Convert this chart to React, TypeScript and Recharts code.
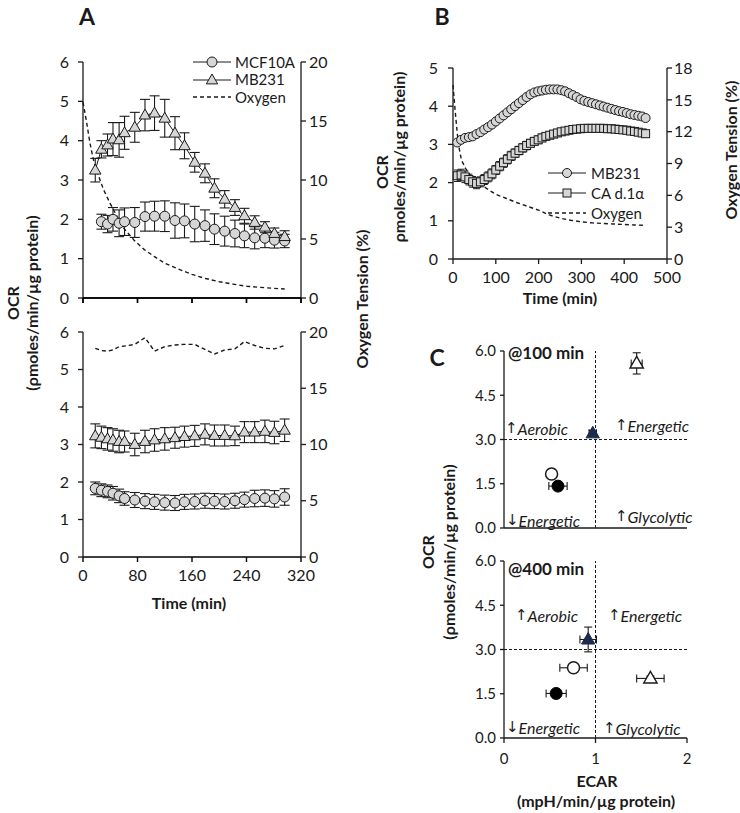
import React from 'react';
import {
  ComposedChart,
  Line,
  XAxis,
  YAxis,
  ErrorBar,
  ScatterChart,
  Scatter,
  ReferenceLine,
} from 'recharts';

const FONT = 'Lato, "Open Sans", "DejaVu Sans", sans-serif';
const INK = '#1a1a1a';
const MARKER_FILL = '#d6d6d6';
const NAVY = '#1d2b4c';

// ---- Panel A, top: hypoxia ----
const aTimeMB231 = [18, 27, 36, 44, 53, 61, 76, 91, 105, 120, 135, 149, 164, 179, 193, 208, 223, 237, 252, 267, 281, 296];
const aTimeMCF10A = [27, 36, 44, 53, 61, 76, 91, 105, 120, 135, 149, 164, 179, 193, 208, 223, 237, 252, 267, 281, 296];
const hypoMB231 = [3.25, 3.78, 3.89, 4.04, 4.02, 4.2, 4.34, 4.65, 4.7, 4.57, 4.19, 3.87, 3.45, 3.17, 2.79, 2.51, 2.3, 2.09, 1.92, 1.8, 1.64, 1.56];
const hypoMB231Err = [0.3, 0.22, 0.28, 0.42, 0.44, 0.42, 0.38, 0.4, 0.44, 0.48, 0.42, 0.33, 0.25, 0.24, 0.24, 0.22, 0.2, 0.19, 0.17, 0.14, 0.14, 0.15];
const hypoMCF10A = [1.94, 1.88, 2.0, 1.9, 1.94, 1.92, 2.07, 2.08, 2.08, 1.97, 1.96, 1.88, 1.84, 1.75, 1.7, 1.64, 1.58, 1.53, 1.52, 1.47, 1.45];
const hypoMCF10AErr = [0.19, 0.22, 0.3, 0.34, 0.35, 0.38, 0.37, 0.38, 0.39, 0.45, 0.43, 0.45, 0.4, 0.39, 0.38, 0.34, 0.3, 0.28, 0.24, 0.2, 0.17];
const hypoO2Time = [0, 5, 10, 15, 20, 25, 30, 40, 50, 60, 75, 90, 105, 120, 140, 160, 180, 200, 220, 240, 260, 280, 296];
const hypoO2 = [16.6, 15.0, 13.2, 11.8, 10.8, 10.0, 9.2, 8.0, 6.9, 5.9, 4.9, 4.1, 3.5, 2.95, 2.45, 2.0, 1.65, 1.38, 1.18, 1.0, 0.9, 0.82, 0.76];

// ---- Panel A, bottom: normoxia ----
const aTimeNorm = [18, 27, 36, 44, 53, 61, 76, 91, 105, 120, 135, 149, 164, 179, 193, 208, 223, 237, 252, 267, 281, 296];
const normMB231 = [3.23, 3.19, 3.15, 3.12, 3.08, 3.08, 3.0, 3.08, 3.12, 3.15, 3.18, 3.21, 3.23, 3.27, 3.24, 3.24, 3.23, 3.33, 3.33, 3.35, 3.32, 3.38];
const normMB231Err = [0.32, 0.3, 0.3, 0.3, 0.3, 0.28, 0.3, 0.3, 0.3, 0.3, 0.28, 0.28, 0.28, 0.28, 0.28, 0.28, 0.26, 0.28, 0.28, 0.3, 0.3, 0.3];
const normMCF10A = [1.83, 1.78, 1.75, 1.7, 1.63, 1.56, 1.52, 1.49, 1.47, 1.45, 1.44, 1.47, 1.48, 1.5, 1.49, 1.48, 1.5, 1.53, 1.56, 1.57, 1.55, 1.6];
const normMCF10AErr = [0.17, 0.17, 0.17, 0.18, 0.18, 0.18, 0.2, 0.2, 0.2, 0.2, 0.2, 0.2, 0.2, 0.2, 0.2, 0.2, 0.2, 0.2, 0.22, 0.22, 0.22, 0.22];
const normO2 = [18.55, 18.35, 18.3, 18.4, 18.7, 18.75, 18.9, 19.5, 18.3, 18.7, 18.85, 18.9, 18.9, 18.45, 18.05, 18.4, 18.5, 19.15, 18.8, 18.55, 18.5, 18.8];

const aTicks = [0, 80, 160, 240, 320];

// ---- Panel B ----
const bTime = [10, 19, 28, 37, 46, 55, 64, 73, 82, 91, 100, 109, 118, 127, 136, 145, 154, 163, 172, 181, 190, 199, 208, 217, 226, 235, 244, 253, 262, 271, 280, 289, 298, 307, 316, 325, 334, 343, 352, 361, 370, 379, 388, 397, 406, 415, 424, 433, 442, 450];
const bMB231 = [3.05, 3.12, 3.17, 3.19, 3.21, 3.27, 3.32, 3.39, 3.45, 3.52, 3.6, 3.68, 3.76, 3.84, 3.92, 4.0, 4.08, 4.16, 4.24, 4.31, 4.36, 4.39, 4.41, 4.43, 4.44, 4.44, 4.44, 4.42, 4.39, 4.34, 4.29, 4.24, 4.18, 4.14, 4.11, 4.08, 4.05, 4.02, 3.99, 3.96, 3.93, 3.9, 3.87, 3.85, 3.82, 3.79, 3.77, 3.75, 3.73, 3.69];
const bMB231Err = [0.05, 0.05, 0.05, 0.05, 0.05, 0.05, 0.05, 0.05, 0.05, 0.05, 0.05, 0.05, 0.05, 0.05, 0.05, 0.05, 0.05, 0.05, 0.05, 0.05, 0.04, 0.04, 0.04, 0.04, 0.04, 0.04, 0.04, 0.04, 0.04, 0.04, 0.04, 0.04, 0.04, 0.04, 0.04, 0.04, 0.04, 0.04, 0.04, 0.04, 0.04, 0.04, 0.04, 0.04, 0.04, 0.04, 0.04, 0.04, 0.04, 0.04];
const bCA = [2.18, 2.2, 2.15, 2.08, 2.02, 1.98, 2.02, 2.08, 2.15, 2.23, 2.33, 2.43, 2.52, 2.61, 2.7, 2.77, 2.84, 2.91, 2.97, 3.03, 3.08, 3.12, 3.17, 3.21, 3.24, 3.27, 3.3, 3.33, 3.35, 3.37, 3.39, 3.4, 3.41, 3.42, 3.42, 3.42, 3.42, 3.42, 3.42, 3.41, 3.41, 3.4, 3.39, 3.38, 3.37, 3.35, 3.34, 3.32, 3.3, 3.28];
const bCAErr = [0.15, 0.15, 0.15, 0.14, 0.14, 0.14, 0.13, 0.13, 0.13, 0.13, 0.12, 0.12, 0.12, 0.12, 0.12, 0.11, 0.11, 0.11, 0.11, 0.1, 0.1, 0.1, 0.1, 0.09, 0.09, 0.09, 0.09, 0.08, 0.08, 0.08, 0.07, 0.07, 0.07, 0.07, 0.06, 0.06, 0.06, 0.06, 0.06, 0.06, 0.05, 0.05, 0.05, 0.05, 0.05, 0.05, 0.05, 0.05, 0.05, 0.05];
const bO2Time = [0, 5, 10, 15, 20, 30, 40, 60, 80, 100, 125, 150, 175, 200, 225, 250, 275, 300, 325, 350, 375, 400, 425, 450];
const bO2 = [16.4, 14.0, 11.8, 10.3, 9.3, 8.5, 7.9, 7.2, 6.6, 6.1, 5.7, 5.3, 4.95, 4.6, 4.15, 3.85, 3.65, 3.5, 3.4, 3.35, 3.3, 3.25, 3.2, 3.17];

// ---- Panel C (order: open circle, filled circle, open triangle, filled triangle) ----
const cMarkers = ['openCircle', 'filledCircle', 'openTriangle', 'filledTriangle'];
const ecar100 = [0.52, 0.59, 1.45, 0.97];
const ecar100Err = [0.04, 0.1, 0.06, 0.04];
const ocr100 = [1.83, 1.42, 5.58, 3.21];
const ocr100Err = [0.16, 0.08, 0.36, 0.1];
const ecar400 = [0.76, 0.57, 1.6, 0.92];
const ecar400Err = [0.15, 0.11, 0.15, 0.09];
const ocr400 = [2.38, 1.51, 2.02, 3.34];
const ocr400Err = [0.1, 0.1, 0.08, 0.42];

// panel A plot box (both halves share the same horizontal layout)
const A_LEFT = 83;
const A_RIGHT = 301;
const A_TOP_AXIS_Y = 298;

const series = (t: number[], v: number[], e?: number[]) =>
  t.map((x, i) => ({ t: x, v: v[i], err: e ? e[i] : 0 }));

const tickStyle = { fill: INK, fontSize: 16, fontFamily: FONT };
const noLabel = () => '';

const tri = (cx: number, cy: number, s: number) =>
  `M${cx},${cy - s} L${cx + s * 0.95},${cy + s * 0.65} L${cx - s * 0.95},${cy + s * 0.65} Z`;

const circleDot = (r: number) => (p: any) =>
  p.cx == null ? <g key={`n${p.index}`} /> : (
    <circle key={`c${p.index}`} cx={p.cx} cy={p.cy} r={r} fill={MARKER_FILL} stroke={INK} strokeWidth={1} />
  );
const triDot = (s: number) => (p: any) =>
  p.cx == null ? <g key={`n${p.index}`} /> : (
    <path key={`t${p.index}`} d={tri(p.cx, p.cy, s)} fill={MARKER_FILL} stroke={INK} strokeWidth={1} />
  );
const squareDot = (s: number) => (p: any) =>
  p.cx == null ? <g key={`n${p.index}`} /> : (
    <rect key={`s${p.index}`} x={p.cx - s} y={p.cy - s} width={s * 2} height={s * 2} fill={MARKER_FILL} stroke={INK} strokeWidth={1} />
  );

type AProps = {
  top: number;
  height: number;
  mb231: any[];
  mcf10a: any[];
  o2: any[];
  xLabels: boolean;
  mBottom: number;
};

const PanelA = ({ top, height, mb231, mcf10a, o2, xLabels, mBottom }: AProps) => (
  <div style={{ position: 'absolute', left: 0, top }}>
    <ComposedChart width={370} height={height} margin={{ top: 22, right: 19, bottom: mBottom, left: 23 }}>
      <XAxis
        type="number"
        dataKey="t"
        domain={[0, 320]}
        ticks={aTicks}
        interval={0}
        stroke="#000"
        strokeWidth={1.4}
        tickSize={5}
        tickMargin={8}
        tick={tickStyle}
        tickFormatter={xLabels ? undefined : noLabel}
        height={30}
      />
      <YAxis yAxisId="ocr" domain={[0, 6]} ticks={[0, 1, 2, 3, 4, 5, 6]} interval={0} width={60} stroke={INK} strokeWidth={1.3} tickSize={5} tickMargin={9} tick={tickStyle} />
      <YAxis yAxisId="o2" orientation="right" domain={[0, 20]} ticks={[0, 5, 10, 15, 20]} interval={0} width={50} stroke={INK} strokeWidth={1.3} tickSize={5} tickMargin={3} tick={tickStyle} />
      <Line yAxisId="o2" data={o2} dataKey="v" stroke={INK} strokeWidth={1.4} strokeDasharray="4 3" dot={false} isAnimationActive={false} />
      <Line yAxisId="ocr" data={mcf10a} dataKey="v" stroke={INK} strokeWidth={1} dot={circleDot(5)} isAnimationActive={false}>
        <ErrorBar dataKey="err" width={5} stroke={INK} strokeWidth={1.1} direction="y" />
      </Line>
      <Line yAxisId="ocr" data={mb231} dataKey="v" stroke={INK} strokeWidth={1} dot={triDot(6)} isAnimationActive={false}>
        <ErrorBar dataKey="err" width={5} stroke={INK} strokeWidth={1.1} direction="y" />
      </Line>
    </ComposedChart>
  </div>
);

const PanelB = () => (
  <div style={{ position: 'absolute', left: 370, top: 40 }}>
    <ComposedChart width={370} height={250} margin={{ top: 28, right: 33, bottom: 3, left: 38 }}>
      <XAxis type="number" dataKey="t" domain={[0, 500]} ticks={[0, 100, 200, 300, 400, 500]} interval={0} stroke={INK} strokeWidth={1.3} tickSize={5} tickMargin={8} tick={tickStyle} height={28} />
      <YAxis yAxisId="ocr" domain={[0, 5]} ticks={[0, 1, 2, 3, 4, 5]} interval={0} width={45} stroke={INK} strokeWidth={1.3} tickSize={5} tickMargin={10} tick={tickStyle} />
      <YAxis yAxisId="o2" orientation="right" domain={[0, 18]} ticks={[0, 3, 6, 9, 12, 15, 18]} interval={0} width={40} stroke={INK} strokeWidth={1.3} tickSize={5} tickMargin={2} tick={tickStyle} />
      <Line yAxisId="o2" data={series(bO2Time, bO2)} dataKey="v" stroke={INK} strokeWidth={1.4} strokeDasharray="4 3" dot={false} isAnimationActive={false} />
      <Line yAxisId="ocr" data={series(bTime, bCA, bCAErr)} dataKey="v" stroke={INK} strokeWidth={1} dot={squareDot(4)} isAnimationActive={false}>
        <ErrorBar dataKey="err" width={3.5} stroke={INK} strokeWidth={1} direction="y" />
      </Line>
      <Line yAxisId="ocr" data={series(bTime, bMB231, bMB231Err)} dataKey="v" stroke={INK} strokeWidth={1} dot={circleDot(4.5)} isAnimationActive={false}>
        <ErrorBar dataKey="err" width={3} stroke={INK} strokeWidth={1} direction="y" />
      </Line>
    </ComposedChart>
  </div>
);

const cShape = (kind: string) => (p: any) => {
  const { cx, cy } = p;
  if (kind === 'openCircle') return <circle cx={cx} cy={cy} r={6} fill="#fff" stroke={INK} strokeWidth={1.5} />;
  if (kind === 'filledCircle') return <circle cx={cx} cy={cy} r={6} fill="#000" stroke="#000" strokeWidth={1} />;
  if (kind === 'openTriangle') return <path d={tri(cx, cy, 7)} fill="#fff" stroke={INK} strokeWidth={1.4} />;
  return <path d={tri(cx, cy, 7)} fill={NAVY} stroke={NAVY} strokeWidth={1} />;
};

type CProps = { top: number; height: number; ecar: number[]; ecarErr: number[]; ocr: number[]; ocrErr: number[]; xLabels: boolean; mBottom: number };

const PanelC = ({ top, height, ecar, ecarErr, ocr, ocrErr, xLabels, mBottom }: CProps) => (
  <div style={{ position: 'absolute', left: 440, top }}>
    <ScatterChart width={300} height={height} margin={{ top: 11, right: 53, bottom: mBottom, left: 24 }}>
      <XAxis
        type="number"
        dataKey="x"
        domain={[0, 2]}
        ticks={[0, 1, 2]}
        interval={0}
        stroke={INK}
        strokeWidth={1.3}
        tickSize={xLabels ? 5 : 0}
        tickLine={xLabels}
        tickMargin={10}
        tick={{ ...tickStyle, fontSize: 15 }}
        tickFormatter={xLabels ? undefined : noLabel}
        height={xLabels ? 30 : 2}
      />
      <YAxis type="number" dataKey="y" domain={[0, 6]} ticks={[0, 1.5, 3, 4.5, 6]} interval={0} tickFormatter={(v: number) => v.toFixed(1)} width={40} stroke={INK} strokeWidth={1.3} tickSize={4} tickMargin={4} tick={{ ...tickStyle, fontSize: 15 }} />
      <ReferenceLine x={1} stroke={INK} strokeWidth={1} strokeDasharray="3 2" />
      <ReferenceLine y={3} stroke={INK} strokeWidth={1} strokeDasharray="3 2" />
      {cMarkers.map((kind, i) => (
        <Scatter
          key={kind}
          data={[{ x: ecar[i], y: ocr[i], ex: ecarErr[i], ey: ocrErr[i] }]}
          shape={cShape(kind)}
          isAnimationActive={false}
        >
          <ErrorBar dataKey="ey" direction="y" width={4} stroke={INK} strokeWidth={1.1} />
          <ErrorBar dataKey="ex" direction="x" width={4} stroke={INK} strokeWidth={1.1} />
        </Scatter>
      ))}
    </ScatterChart>
  </div>
);

const T = (props: any) => <text fontFamily={FONT} fill={INK} dominantBaseline="central" {...props} />;

const Quadrant = ({ x, y, arrow, word }: { x: number; y: number; arrow: string; word: string }) => (
  <T x={x} y={y} fontSize={16}>
    <tspan fontFamily='"DejaVu Sans", "Liberation Sans", sans-serif' fontSize={15}>{arrow}</tspan>
    <tspan fontStyle="italic">{word}</tspan>
  </T>
);

// fallback x-axis for the upper A panel (same scale as the chart's own axis)
const aScale = (t: number) => A_LEFT + (t / 320) * (A_RIGHT - A_LEFT);

const Overlay = () => (
  <svg width={740} height={813} style={{ position: 'absolute', left: 0, top: 0, pointerEvents: 'none' }}>
    <line x1={A_LEFT} x2={A_RIGHT} y1={A_TOP_AXIS_Y} y2={A_TOP_AXIS_Y} stroke="#000" strokeWidth={1.4} />
    {aTicks.map((t) => (
      <line key={t} x1={aScale(t)} x2={aScale(t)} y1={A_TOP_AXIS_Y} y2={A_TOP_AXIS_Y + 5} stroke="#000" strokeWidth={1.4} />
    ))}

    <T x={87} y={16} fontSize={23} fontWeight="bold" textAnchor="middle">A</T>
    <T x={442} y={16} fontSize={23} fontWeight="bold" textAnchor="middle">B</T>
    <T x={437} y={357} fontSize={23} fontWeight="bold" textAnchor="middle">C</T>

    {/* panel A titles */}
    <T x={12} y={303} fontSize={16} fontWeight="bold" textAnchor="middle" transform="rotate(-90 12 303)">OCR</T>
    <T x={31} y={303} fontSize={16} fontWeight="bold" textAnchor="middle" transform="rotate(-90 31 303)">(ρmoles/min/µg protein)</T>
    <T x={361} y={299} fontSize={16} fontWeight="bold" textAnchor="middle" transform="rotate(-90 361 299)">Oxygen Tension (%)</T>
    <T x={189} y={602} fontSize={16} fontWeight="bold" textAnchor="middle">Time (min)</T>

    {/* panel A legend */}
    <line x1={193} x2={231} y1={62} y2={62} stroke={INK} strokeWidth={1} />
    <circle cx={212} cy={62} r={5} fill={MARKER_FILL} stroke={INK} />
    <T x={235} y={62} fontSize={15}>MCF10A</T>
    <line x1={193} x2={231} y1={80} y2={80} stroke={INK} strokeWidth={1} />
    <path d={tri(212, 80, 6)} fill={MARKER_FILL} stroke={INK} />
    <T x={235} y={79} fontSize={15}>MB231</T>
    <line x1={193} x2={231} y1={97} y2={97} stroke={INK} strokeWidth={1.4} strokeDasharray="4 3" />
    <T x={235} y={97} fontSize={15}>Oxygen</T>

    {/* panel B titles */}
    <T x={381} y={172} fontSize={16} fontWeight="bold" textAnchor="middle" transform="rotate(-90 381 172)">OCR</T>
    <T x={398} y={157} fontSize={16} fontWeight="bold" textAnchor="middle" transform="rotate(-90 398 157)">ρmoles/min/µg protein)</T>
    <T x={730} y={150} fontSize={16} fontWeight="bold" textAnchor="middle" transform="rotate(-90 730 150)">Oxygen Tension  (%)</T>
    <T x={560} y={297} fontSize={16} fontWeight="bold" textAnchor="middle">Time (min)</T>

    {/* panel B legend */}
    <line x1={548} x2={586} y1={173} y2={173} stroke={INK} strokeWidth={1} />
    <circle cx={567} cy={173} r={4.5} fill={MARKER_FILL} stroke={INK} />
    <T x={591} y={173} fontSize={15}>MB231</T>
    <line x1={548} x2={586} y1={193} y2={193} stroke={INK} strokeWidth={1} />
    <rect x={563} y={189} width={8} height={8} fill={MARKER_FILL} stroke={INK} />
    <T x={591} y={193} fontSize={15}>CA d.1α</T>
    <line x1={548} x2={586} y1={213} y2={213} stroke={INK} strokeWidth={1.4} strokeDasharray="4 3" />
    <T x={591} y={213} fontSize={15}>Oxygen</T>

    {/* panel C titles */}
    <T x={427} y={552} fontSize={16} fontWeight="bold" textAnchor="middle" transform="rotate(-90 427 552)">OCR</T>
    <T x={448} y={552} fontSize={16} fontWeight="bold" textAnchor="middle" transform="rotate(-90 448 552)">(ρmoles/min/µg protein)</T>
    <T x={597} y={780} fontSize={16} fontWeight="bold" textAnchor="middle">ECAR</T>
    <T x={596} y={800} fontSize={16} fontWeight="bold" textAnchor="middle">(mpH/min/µg protein)</T>

    <T x={508} y={352} fontSize={17} fontWeight="bold">@100 min</T>
    <Quadrant x={505} y={428} arrow="↑" word="Aerobic" />
    <Quadrant x={615} y={425} arrow="↑" word="Energetic" />
    <Quadrant x={506} y={520} arrow="↓" word="Energetic" />
    <Quadrant x={615} y={516} arrow="↑" word="Glycolytic" />

    <T x={508} y={568} fontSize={17} fontWeight="bold">@400 min</T>
    <Quadrant x={515} y={615} arrow="↑" word="Aerobic" />
    <Quadrant x={608} y={615} arrow="↑" word="Energetic" />
    <Quadrant x={506} y={727} arrow="↓" word="Energetic" />
    <Quadrant x={603} y={728} arrow="↑" word="Glycolytic" />
  </svg>
);

export default function App() {
  return (
    <div style={{ position: 'absolute', left: 0, top: 0, width: 740, height: 813, background: '#fff' }}>
      <PanelA
        top={310}
        height={300}
        mb231={series(aTimeNorm, normMB231, normMB231Err)}
        mcf10a={series(aTimeNorm, normMCF10A, normMCF10AErr)}
        o2={series(aTimeNorm, normO2)}
        xLabels
        mBottom={23}
      />
      <PanelA
        top={40}
        height={288}
        mb231={series(aTimeMB231, hypoMB231, hypoMB231Err)}
        mcf10a={series(aTimeMCF10A, hypoMCF10A, hypoMCF10AErr)}
        o2={series(hypoO2Time, hypoO2)}
        xLabels={false}
        mBottom={0}
      />
      <PanelB />
      <PanelC top={340} height={195} ecar={ecar100} ecarErr={ecar100Err} ocr={ocr100} ocrErr={ocr100Err} xLabels={false} mBottom={5} />
      <PanelC top={550} height={263} ecar={ecar400} ecarErr={ecar400Err} ocr={ocr400} ocrErr={ocr400Err} xLabels mBottom={45} />
      <Overlay />
    </div>
  );
}
